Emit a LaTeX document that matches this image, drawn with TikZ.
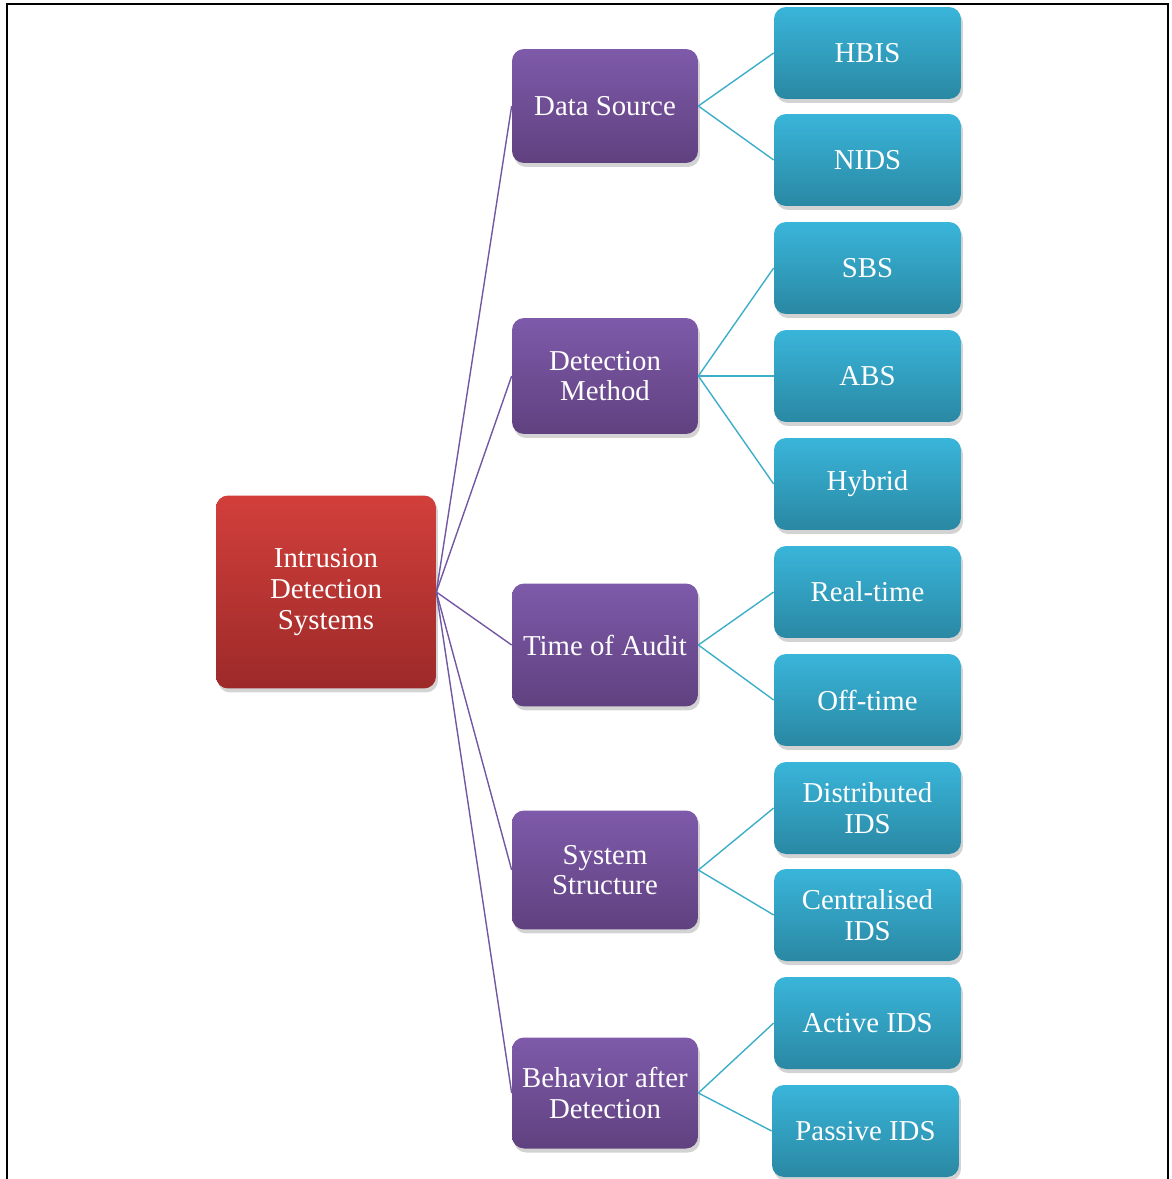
\documentclass[tikz,border=0pt]{standalone}
\usepackage{fontspec}
\setmainfont{Liberation Serif}
\usetikzlibrary{shadows}

\definecolor{rootTop}{HTML}{D23F3B}
\definecolor{rootBot}{HTML}{9C2A29}
\definecolor{midTop}{HTML}{7E5AAA}
\definecolor{midBot}{HTML}{60417F}
\definecolor{leafTop}{HTML}{39B5DA}
\definecolor{leafBot}{HTML}{2A88A3}
\definecolor{midLine}{HTML}{7457A3}
\definecolor{leafLine}{HTML}{3DAEC8}

\tikzset{
  box/.style={rounded corners=0.24cm, text=white, align=center,
    font=\fontsize{16.4}{17.4}\selectfont,
    drop shadow={opacity=0.35, shadow xshift=0.04cm, shadow yshift=-0.08cm}},
  rootbox/.style={box, top color=rootTop, bottom color=rootBot,
    minimum width=4.4cm, minimum height=3.86cm},
  midbox/.style={box, top color=midTop, bottom color=midBot,
    minimum width=3.72cm},
  leafbox/.style={box, top color=leafTop, bottom color=leafBot,
    minimum width=3.74cm, minimum height=1.84cm},
  midlink/.style={draw=midLine, line width=0.8pt},
  leaflink/.style={draw=leafLine, line width=0.8pt}
}

\begin{document}
\begin{tikzpicture}[x=0.02cm, y=-0.02cm]

\def\xr{326}; % root
\def\xm{605}; % middle column
\def\xl{867.5}; % leaves

\useasboundingbox (0,0) rectangle (1171,1179);

% frame
\draw[line width=1.6pt] (7,1179) -- (7,4) -- (1168,4) -- (1168,1179);

\node[rootbox] (ids) at (\xr, 592) {Intrusion\\Detection\\Systems};

\node[midbox, minimum height=2.28cm] (src) at (\xm, 106) {Data Source};
\node[midbox, minimum height=2.32cm] (det) at (\xm, 376) {Detection\\Method};
\node[midbox, minimum height=2.46cm] (aud) at (\xm, 645) {Time of Audit};
\node[midbox, minimum height=2.38cm] (str) at (\xm, 870) {System\\Structure};
\node[midbox, minimum height=2.22cm] (beh) at (\xm, 1093) {Behavior after\\Detection};

\node[leafbox] (hbis) at (\xl, 53) {HBIS};
\node[leafbox] (nids) at (\xl, 160) {NIDS};
\node[leafbox] (sbs) at (\xl, 268) {SBS};
\node[leafbox] (abs) at (\xl, 376) {ABS};
\node[leafbox] (hyb) at (\xl, 484) {Hybrid};
\node[leafbox] (real) at (\xl, 592) {Real-time};
\node[leafbox] (off) at (\xl, 700) {Off-time};
\node[leafbox] (dist) at (\xl, 808) {Distributed\\IDS};
\node[leafbox] (cent) at (\xl, 915) {Centralised\\IDS};
\node[leafbox] (act) at (\xl, 1023) {Active IDS};
\node[leafbox] (pas) at (\xl-2, 1131) {Passive IDS};

% root to categories
\foreach \m in {src,det,aud,str,beh}
  \path[midlink] (ids.east) -- (\m.west);

% categories to leaves
\foreach \m/\l in {src/hbis,src/nids,det/sbs,det/abs,det/hyb,aud/real,aud/off,
                   str/dist,str/cent,beh/act,beh/pas}
  \path[leaflink] (\m.east) -- (\l.west);

\end{tikzpicture}
\end{document}
